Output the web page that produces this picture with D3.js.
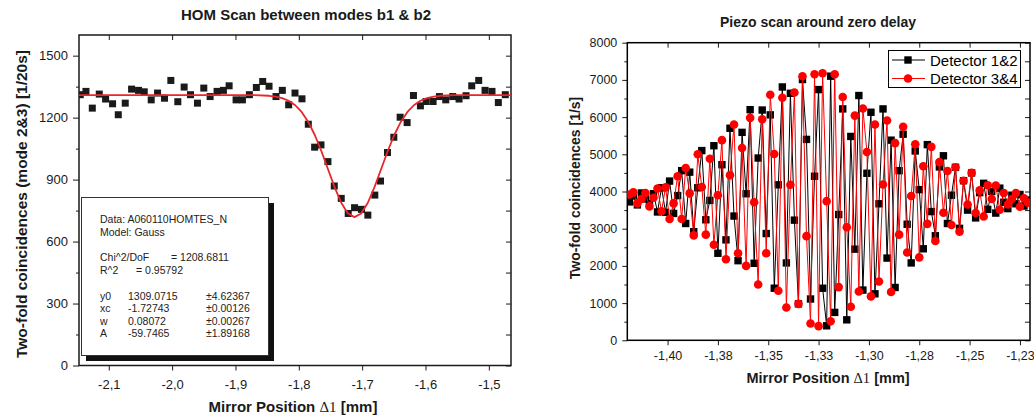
<!DOCTYPE html>
<html>
<head>
<meta charset="utf-8">
<script src="https://cdn.jsdelivr.net/npm/d3@7"></script>
<style>
body { margin: 0; background: #fff; }
svg { display: block; font-family: "Liberation Sans", Arial, sans-serif; }
</style>
</head>
<body>
<div id="container"></div>
<script>
const container = d3.select('#container');

// ---- left panel: HOM dip ----
const homX = [-2.145, -2.136, -2.126, -2.115, -2.105, -2.094, -2.085, -2.074, -2.064, -2.053,
    -2.044, -2.033, -2.023, -2.012, -2.002, -1.991, -1.981, -1.971, -1.960, -1.950,
    -1.940, -1.929, -1.919, -1.910, -1.899, -1.889, -1.878, -1.867, -1.857, -1.847,
    -1.836, -1.826, -1.816, -1.806, -1.795, -1.785, -1.775, -1.765, -1.754, -1.744,
    -1.733, -1.722, -1.712, -1.701, -1.691, -1.680, -1.671, -1.660, -1.650, -1.640,
    -1.629, -1.619, -1.608, -1.599, -1.588, -1.578, -1.568, -1.557, -1.547, -1.536,
    -1.527, -1.516, -1.506, -1.495, -1.485, -1.474];
const homY = [1311, 1327, 1246, 1314, 1290, 1267, 1214, 1270, 1338, 1332,
    1325, 1286, 1319, 1294, 1380, 1277, 1348, 1311, 1270, 1343,
    1302, 1327, 1332, 1354, 1286, 1286, 1311, 1346, 1375, 1352,
    1302, 1332, 1262, 1319, 1291, 1168, 1057, 1068, 987, 869,
    809, 736, 764, 756, 728, 825, 893, 1031, 1105, 1202,
    1176, 1307, 1257, 1278, 1278, 1302, 1286, 1302, 1290, 1306,
    1354, 1380, 1332, 1327, 1273, 1311];
const fitX = [-2.147, -1.870, -1.8472, -1.8368, -1.8264, -1.816, -1.8056, -1.7952, -1.7848, -1.7744,
    -1.764, -1.7536, -1.7432, -1.7328, -1.7224, -1.712, -1.7016, -1.6912, -1.6808, -1.6704,
    -1.66, -1.6496, -1.6392, -1.6288, -1.6184, -1.608, -1.5976, -1.5872, -1.5768, -1.554, -1.465];
const fitY = [1309, 1308.5, 1305.8, 1302.0, 1294.7, 1281.7, 1259.9, 1226.2, 1177.8, 1113.4,
    1034.9, 947.6, 861.0, 786.6, 736.2, 718.4, 736.2, 786.6, 861.0, 947.6,
    1034.9, 1113.4, 1177.8, 1226.2, 1259.9, 1281.7, 1294.7, 1302.0, 1305.8, 1308.5, 1309];
const homXTicks = [-2.1, -2.0, -1.9, -1.8, -1.7, -1.6, -1.5];
const homYTicks = [0, 300, 600, 900, 1200, 1500];
const homYMinor = [150, 450, 750, 1050, 1350];

const fitInfo = ["Data: A060110HOMTES_N", "Model: Gauss"];
const fitStats = [["Chi^2/DoF", "= 1208.6811"], ["R^2", "=  0.95792"]];
const fitParams = [
    ["y0", "1309.0715", "\u00b14.62367"],
    ["xc", "-1.72743", "\u00b10.00126"],
    ["w", "0.08072", "\u00b10.00267"],
    ["A", "-59.7465", "\u00b11.89168"]
];

// ---- right panel: piezo scan ----
const piezoX = [-1.419, -1.417, -1.415, -1.413, -1.411, -1.409, -1.407, -1.405, -1.403, -1.401,
    -1.399, -1.397, -1.395, -1.393, -1.391, -1.389, -1.387, -1.385, -1.383, -1.381,
    -1.379, -1.377, -1.375, -1.373, -1.371, -1.369, -1.367, -1.365, -1.363, -1.361,
    -1.359, -1.357, -1.355, -1.353, -1.351, -1.349, -1.347, -1.345, -1.343, -1.341,
    -1.339, -1.337, -1.335, -1.333, -1.331, -1.329, -1.327, -1.325, -1.323, -1.321,
    -1.319, -1.317, -1.315, -1.313, -1.311, -1.309, -1.307, -1.305, -1.303, -1.301,
    -1.299, -1.297, -1.295, -1.293, -1.291, -1.289, -1.287, -1.285, -1.283, -1.281,
    -1.279, -1.277, -1.275, -1.273, -1.271, -1.269, -1.267, -1.265, -1.263, -1.261,
    -1.259, -1.257, -1.255, -1.253, -1.251, -1.249, -1.247, -1.245, -1.243, -1.241,
    -1.239, -1.237, -1.235, -1.233, -1.231, -1.229, -1.227, -1.225, -1.223, -1.221];
const det12 = [3720, 3880, 3640, 3960, 3800, 3680, 3940, 3450, 4100, 3440,
    4280, 3410, 3890, 4560, 3140, 4520, 2920, 4100, 5100, 3240,
    3760, 5230, 2340, 4720, 2700, 5700, 3340, 2140, 5590, 3940,
    6200, 2070, 4900, 6190, 2870, 6060, 1400, 4180, 6810, 2080,
    6640, 3230, 980, 7010, 5400, 1110, 4410, 6740, 1400, 390,
    7100, 750, 3380, 6220, 550, 5480, 2450, 6580, 1350, 4490,
    6130, 1250, 3670, 6220, 2210, 5380, 1420, 4560, 5540, 3120,
    2080, 5090, 4050, 2460, 5260, 3460, 2810, 4660, 4960, 3140,
    3900, 4650, 3010, 4290, 3500, 4500, 3290, 3970, 4220, 3520,
    4000, 3420, 4090, 3710, 3540, 3900, 3670, 3920, 3610, 3770];
const det34 = [3920, 3980, 3680, 3800, 3960, 3600, 3830, 4080, 3470, 4110,
    3260, 3680, 4410, 3260, 4630, 3950, 2820, 5000, 4120, 2840,
    4880, 2570, 3900, 5380, 2180, 4440, 5800, 2340, 5170, 2000,
    5980, 3710, 1500, 5940, 2340, 6600, 5010, 1330, 6520, 880,
    4180, 6660, 980, 7100, 2800, 450, 7150, 380, 7180, 3740,
    510, 7150, 1430, 6540, 3040, 900, 6040, 1310, 6230, 5060,
    1180, 5800, 1580, 4190, 5910, 1300, 5300, 2840, 5740, 2360,
    3880, 5270, 2230, 4680, 3130, 5200, 2670, 4790, 3430, 4550,
    3100, 4650, 2920, 4290, 3650, 4500, 3420, 4030, 3330, 4170,
    3800, 4160, 3510, 3960, 3650, 3800, 3960, 3590, 3820, 3700];
const piezoXTicks = [-1.4, -1.375, -1.35, -1.325, -1.3, -1.275, -1.25, -1.225];
const piezoXLabels = ["-1,40", "-1,38", "-1,35", "-1,33", "-1,30", "-1,28", "-1,25", "-1,23"];
const piezoYTicks = [0, 1000, 2000, 3000, 4000, 5000, 6000, 7000, 8000];
const piezoYMinor = [500, 1500, 2500, 3500, 4500, 5500, 6500, 7500];
const seriesNames = ["Detector 1&2", "Detector 3&4"];

const svg = container.append("svg")
    .attr("width", 1034)
    .attr("height", 418);

function addAxis(path, axis, tx, ty, fs) {
    var g = path.append("g")
        .attr("class", "axis")
        .attr("transform", "translate(" + tx + "," + ty + ")")
        .call(axis);
    g.select(".domain").remove();
    g.attr("font-size", fs)
        .attr("font-family", '"Liberation Sans", Arial, sans-serif');
    g.selectAll("text").attr("fill", "#1a1a1a");
    g.selectAll("line").attr("stroke", "#1a1a1a");
    return g;
}

function addXLabel(path, cx, cy, fs) {
    var t = path.append("text")
        .attr("x", cx)
        .attr("y", cy)
        .attr("text-anchor", "middle")
        .attr("font-size", fs)
        .attr("font-weight", "bold")
        .attr("fill", "#1a1a1a");
    t.append("tspan").text("Mirror Position ");
    t.append("tspan")
        .attr("font-family", '"Liberation Serif", "Times New Roman", serif')
        .attr("font-weight", "normal")
        .text("\u03941");
    t.append("tspan").text(" [mm]");
}

function addTitle(path, cx, cy, fs, t) {
    path.append("text")
        .attr("x", cx)
        .attr("y", cy)
        .attr("text-anchor", "middle")
        .attr("font-size", fs)
        .attr("font-weight", "bold")
        .attr("fill", "#1a1a1a")
        .text(t);
}

function addYLabel(path, cx, cy, fs, t) {
    path.append("text")
        .attr("transform", "translate(" + cx + "," + cy + ") rotate(-90)")
        .attr("text-anchor", "middle")
        .attr("font-size", fs)
        .attr("font-weight", "bold")
        .attr("fill", "#1a1a1a")
        .text(t);
}

// ================= left panel =================
var xL = d3.scaleLinear().domain([-2.147, -1.465]).range([79, 511]);
var yL = d3.scaleLinear().domain([0, 1600]).range([365.5, 35]);

var left = svg.append("g");

left.append("clipPath").attr("id", "clipL")
    .append("rect").attr("x", 79).attr("y", 35).attr("width", 432).attr("height", 330.5);

addAxis(left, d3.axisBottom(xL).tickValues(homXTicks).tickSize(5).tickPadding(9)
    .tickFormat(d => d.toFixed(1).replace(".", ",")), 0, 365.5, 13);
addAxis(left, d3.axisBottom(xL).tickValues(homXTicks).tickSize(5).tickFormat(""), 0, 35, 13);
addAxis(left, d3.axisLeft(yL).tickValues(homYTicks).tickSize(6).tickPadding(5)
    .tickFormat(d3.format("d")), 79, 0, 13);
addAxis(left, d3.axisLeft(yL).tickValues(homYMinor).tickSize(3).tickFormat(""), 79, 0, 13);
addAxis(left, d3.axisLeft(yL).tickValues(homYTicks.concat(homYMinor)).tickSize(5).tickFormat(""), 511, 0, 13);

left.append("rect")
    .attr("x", 79).attr("y", 35)
    .attr("width", 432).attr("height", 330.5)
    .attr("fill", "none")
    .attr("stroke", "#1a1a1a")
    .attr("stroke-width", 1.5);

var plotL = left.append("g").attr("clip-path", "url(#clipL)");

plotL.selectAll(".homPt")
    .data(homX)
    .join("rect")
    .attr("class", "homPt")
    .attr("x", d => xL(d) - 3.5)
    .attr("y", (d, i) => yL(homY[i]) - 3.5)
    .attr("width", 7)
    .attr("height", 7)
    .attr("fill", "#1a1a1a");

plotL.append("path")
    .datum(fitX)
    .attr("fill", "none")
    .attr("stroke", "#e8262b")
    .attr("stroke-width", 1.8)
    .attr("stroke-linejoin", "round")
    .attr("d", d3.line().x(d => xL(d)).y((d, i) => yL(fitY[i])));

// fit result box with drop shadow
left.append("rect")
    .attr("x", 86).attr("y", 203)
    .attr("width", 188).attr("height", 158)
    .attr("fill", "#111");
left.append("rect")
    .attr("x", 81.5).attr("y", 197.5)
    .attr("width", 187).attr("height", 158)
    .attr("fill", "#fff")
    .attr("stroke", "#333")
    .attr("stroke-width", 1);

var box = left.append("g")
    .attr("font-size", 10.5)
    .attr("fill", "#222");

fitInfo.forEach(function(t, i) {
    box.append("text").attr("x", 100).attr("y", 223 + i * 12.7).text(t);
});
fitStats.forEach(function(d, i) {
    box.append("text").attr("x", 100).attr("y", 261 + i * 12.5).text(d[0]);
    box.append("text").attr("x", i == 0 ? 171 : 136).attr("y", 261 + i * 12.5).text(d[1]);
});
fitParams.forEach(function(d, i) {
    var yy = 299.5 + i * 12.6;
    box.append("text").attr("x", 100).attr("y", yy).text(d[0]);
    box.append("text").attr("x", 128).attr("y", yy).text(d[1]);
    box.append("text").attr("x", 206).attr("y", yy).text(d[2]);
});

addTitle(left, 306, 20, 15, "HOM Scan between modes b1 & b2");
addYLabel(left, 27, 204, 15.5, "Two-fold coincidences (mode 2&3) [1/20s]");
addXLabel(left, 293, 412, 15);

// ================= right panel =================
var xR = d3.scaleLinear().domain([-1.42, -1.22]).range([627.3, 1030]);
var yR = d3.scaleLinear().domain([0, 8000]).range([340.3, 42.7]);

var right = svg.append("g");

right.append("clipPath").attr("id", "clipR")
    .append("rect").attr("x", 627.3).attr("y", 42.7).attr("width", 402.7).attr("height", 297.6);

addAxis(right, d3.axisBottom(xR).tickValues(piezoXTicks).tickSize(5).tickPadding(6)
    .tickFormat((d, i) => piezoXLabels[i]), 0, 340.3, 12.5);
addAxis(right, d3.axisBottom(xR).tickValues(piezoXTicks).tickSize(5).tickFormat(""), 0, 42.7, 12.5);
addAxis(right, d3.axisLeft(yR).tickValues(piezoYTicks).tickSize(5).tickPadding(5)
    .tickFormat(d3.format("d")), 627.3, 0, 12.5);
addAxis(right, d3.axisLeft(yR).tickValues(piezoYMinor).tickSize(3).tickFormat(""), 627.3, 0, 12.5);
addAxis(right, d3.axisLeft(yR).tickValues(piezoYTicks.concat(piezoYMinor)).tickSize(5).tickFormat(""), 1030, 0, 12.5);

right.append("rect")
    .attr("x", 627.3).attr("y", 42.7)
    .attr("width", 402.7).attr("height", 297.6)
    .attr("fill", "none")
    .attr("stroke", "#000")
    .attr("stroke-width", 1.5);

var plotR = right.append("g").attr("clip-path", "url(#clipR)");

function addSeries(path, vals, col, shape) {
    path.append("path")
        .datum(piezoX)
        .attr("fill", "none")
        .attr("stroke", col)
        .attr("stroke-width", 1)
        .attr("d", d3.line().x(d => xR(d)).y((d, i) => yR(vals[i])));

    if (shape == "square") {
        path.selectAll(null)
            .data(piezoX)
            .join("rect")
            .attr("x", d => xR(d) - 3.7)
            .attr("y", (d, i) => yR(vals[i]) - 3.7)
            .attr("width", 7.4)
            .attr("height", 7.4)
            .attr("fill", col);
    } else {
        path.selectAll(null)
            .data(piezoX)
            .join("circle")
            .attr("cx", d => xR(d))
            .attr("cy", (d, i) => yR(vals[i]))
            .attr("r", 4.3)
            .attr("fill", col);
    }
}

addSeries(plotR, det12, "#000", "square");
addSeries(plotR, det34, "#ff0000", "circle");

// legend
var leg = right.append("g");
leg.append("rect")
    .attr("x", 888.5).attr("y", 50.5)
    .attr("width", 132).attr("height", 37)
    .attr("fill", "#fff")
    .attr("stroke", "#000")
    .attr("stroke-width", 1);

[["#000", "square"], ["#ff0000", "circle"]].forEach(function(d, i) {
    var ly = 60 + i * 18.5;
    leg.append("line")
        .attr("x1", 892).attr("x2", 925)
        .attr("y1", ly).attr("y2", ly)
        .attr("stroke", d[0]).attr("stroke-width", 1);
    if (d[1] == "square") {
        leg.append("rect").attr("x", 904.3).attr("y", ly - 3.7)
            .attr("width", 7.4).attr("height", 7.4).attr("fill", d[0]);
    } else {
        leg.append("circle").attr("cx", 908).attr("cy", ly).attr("r", 4.3).attr("fill", d[0]);
    }
    leg.append("text")
        .attr("x", 930)
        .attr("y", ly + 5.5)
        .attr("font-size", 15)
        .attr("fill", "#000")
        .text(seriesNames[i]);
});

addTitle(right, 818, 27, 14, "Piezo scan around zero delay");
addYLabel(right, 580, 188, 14, "Two-fold coincidences [1/s]");
addXLabel(right, 828, 383, 14.5);
</script>
</body>
</html>
